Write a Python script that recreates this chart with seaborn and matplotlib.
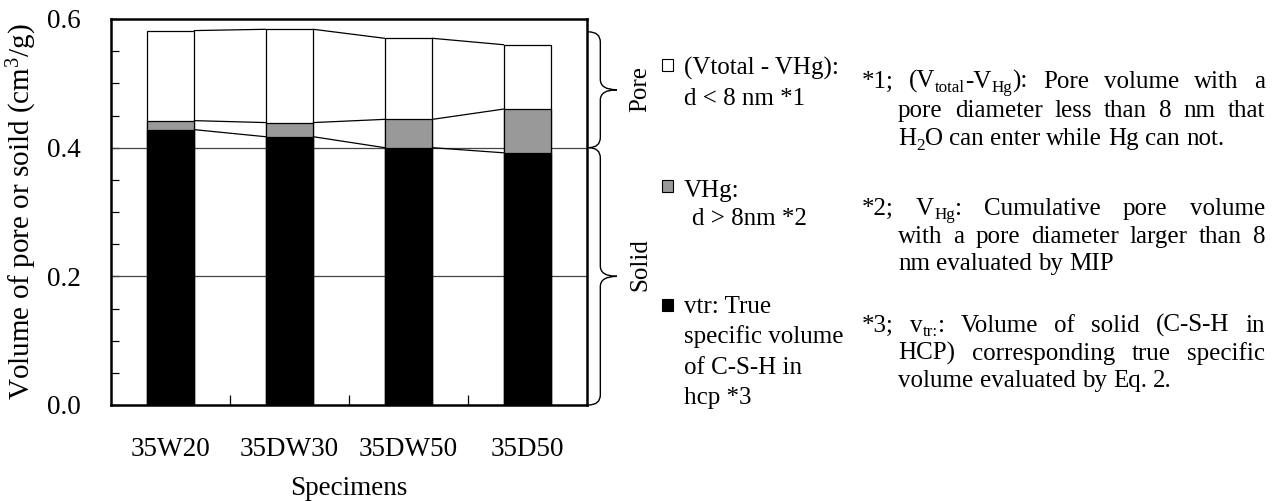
import numpy as np
import pandas as pd
import matplotlib
matplotlib.use("Agg")
import matplotlib.pyplot as plt
import seaborn as sns
from matplotlib.path import Path
from matplotlib.patches import PathPatch, Rectangle
import matplotlib.transforms as mtransforms

# ---------------- data ----------------
specimens = ["35W20", "35DW30", "35DW50", "35D50"]
v_tr = [0.428, 0.417, 0.400, 0.392]        # true specific volume of C-S-H (solid)
v_hg = [0.014, 0.022, 0.044, 0.068]        # VHg : d > 8 nm
v_small = [0.140, 0.145, 0.126, 0.100]     # Vtotal - VHg : d < 8 nm
y_ticks = [0.0, 0.2, 0.4, 0.6]
y_tick_labels = ["0.0", "0.2", "0.4", "0.6"]
y_minor_ticks = [0.05, 0.1, 0.15, 0.25, 0.3, 0.35, 0.45, 0.5, 0.55]
brace_ranges = [(0.40, 0.58), (0.0, 0.40)]   # Pore, Solid
brace_labels = ["Pore", "Solid"]

legend_entries = [
    ("white", ["(Vtotal - VHg):", "d < 8 nm *1"]),
    ("#999999", ["VHg:", "d > 8nm *2"]),
    ("black", ["vtr: True", "specific volume", "of C-S-H in", "hcp *3"]),
]
# words separated by spaces; inside a word, "|" splits pieces, "_" marks a subscript piece
notes = [
    ["*1; (V|_total|-V|_Hg|): Pore volume with a",
     "pore diameter less than 8 nm that",
     "H|_2|O can enter while Hg can not."],
    ["*2; V|_Hg|: Cumulative pore volume",
     "with a pore diameter larger than 8",
     "nm evaluated by MIP"],
    ["*3; v|_tr:|: Volume of solid (C-S-H in",
     "HCP) corresponding true specific",
     "volume evaluated by Eq. 2."],
]

# ---------------- style ----------------
sns.set_theme(style="white")
plt.rcParams["font.family"] = ["Liberation Serif", "DejaVu Serif"]
plt.rcParams["mathtext.fontset"] = "custom"
plt.rcParams["mathtext.rm"] = "Liberation Serif"
plt.rcParams["mathtext.it"] = "Liberation Serif:italic"
plt.rcParams["mathtext.bf"] = "Liberation Serif:bold"

W, H = 1279, 501
FS_TICK = 19.5
FS_YLAB = 21
FS_TXT = 18

fig = plt.figure(figsize=(W / 100, H / 100), dpi=100)
fig.patch.set_facecolor("white")
ax = fig.add_axes([111 / W, 1 - 405 / H, 476 / W, 386 / H])
ax.set_facecolor("white")

df = pd.DataFrame({"specimen": specimens, "solid": v_tr, "hg": v_hg, "small": v_small})
df["top_solid"] = df["solid"]
df["top_hg"] = df["solid"] + df["hg"]
df["top_total"] = df["top_hg"] + df["small"]

bw = 0.4
layers = [("top_total", "white"), ("top_hg", "#999999"), ("top_solid", "black")]
for col, color in layers:
    sns.barplot(data=df, x="specimen", y=col, color=color, saturation=1,
                width=bw, edgecolor="black", linewidth=0.9, errorbar=None,
                ax=ax, zorder=2)

# connecting lines between stacked segment tops
for col, _ in layers:
    vals = df[col].to_numpy()
    for i in range(len(vals) - 1):
        ax.plot([i + bw / 2, i + 1 - bw / 2], [vals[i], vals[i + 1]],
                color="black", lw=0.9, zorder=3)

ax.set_xlim(-0.5, 3.5)
ax.set_ylim(0, 0.6)
ax.set_yticks(y_ticks)
ax.set_yticklabels(y_tick_labels)
ax.set_yticks(y_minor_ticks, minor=True)
ax.set_xticks(range(len(specimens)))
ax.set_xticklabels(specimens)
ax.set_xticks([0.5, 1.5, 2.5], minor=True)

ax.grid(False)
for yv in [0.2, 0.4]:
    ax.axhline(yv, color="#444444", lw=0.9, zorder=1)

ax.tick_params(axis="x", which="major", length=0, pad=23, labelsize=FS_TICK, colors="black")
ax.tick_params(axis="x", which="minor", direction="in", length=7.5, width=0.9, color="black")
ax.tick_params(axis="y", which="both", direction="in", length=6, width=0.9, color="black")
ax.tick_params(axis="y", which="major", pad=22, labelsize=FS_TICK, labelcolor="black")
ax.tick_params(left=True, bottom=True, which="both")

for sp in ax.spines.values():
    sp.set_color("black")
    sp.set_linewidth(1.8)
    sp.set_zorder(5)

ax.set_ylabel("Volume of pore or soild (cm$^3$/g)", fontsize=FS_YLAB, color="black")
ax.yaxis.set_label_coords(-0.152, 0.5)
ax.set_xlabel("Specimens", fontsize=FS_TICK, color="black")
ax.xaxis.set_label_coords(0.5, -0.185)

# ---------------- braces ----------------
btr = mtransforms.blended_transform_factory(ax.transAxes, ax.transData)
x0, x1, x2 = 1.003, 1.028, 1.063
r = 0.016
for (y0, y1) in brace_ranges:
    ym = (y0 + y1) / 2
    verts = [(x0, y0), (x1, y0), (x1, y0 + r), (x1, ym - r),
             (x1, ym), (x2, ym), (x1, ym), (x1, ym + r),
             (x1, y1 - r), (x1, y1), (x0, y1)]
    codes = [Path.MOVETO, Path.CURVE3, Path.CURVE3, Path.LINETO,
             Path.CURVE3, Path.CURVE3, Path.CURVE3, Path.CURVE3,
             Path.LINETO, Path.CURVE3, Path.CURVE3]
    ax.add_patch(PathPatch(Path(verts, codes), transform=btr, fill=False,
                           edgecolor="black", lw=1.0, clip_on=False))

def px(x, y):
    return x / W, 1 - y / H

for label, yc in zip(brace_labels, [89, 265]):
    fig.text(*px(646, yc), label, rotation=90, rotation_mode="anchor",
             ha="center", va="baseline", fontsize=FS_TXT, color="black")

# ---------------- legend ----------------
leg_sq_top = [59, 180, 299]
leg_base = [[75, 105], [197, 225], [313, 343, 374, 404]]
leg_x = [[684, 684], [684, 692], [684, 684, 684, 684]]
for (color, lines), ytop, bases, xs in zip(legend_entries, leg_sq_top, leg_base, leg_x):
    fx, fy = px(662, ytop + 12)
    fig.add_artist(Rectangle((fx, fy), 11 / W, 12 / H, transform=fig.transFigure,
                             facecolor=color, edgecolor="black", lw=0.8))
    for line, yb, xx in zip(lines, bases, xs):
        fig.text(*px(xx, yb), line, fontsize=FS_TXT, va="baseline", ha="left", color="black")

# ---------------- notes (justified) ----------------
renderer = fig.canvas.get_renderer()
note_bases = [[88, 117, 145], [215, 243, 270], [332, 360, 387]]
XL1, XL2, XR = 862, 898, 1265
SUB_DROP = 4.5

def make_word(word, yb):
    pieces = []
    for seg in word.split("|"):
        if seg == "":
            continue
        if seg.startswith("_"):
            o = fig.text(*px(0, yb + SUB_DROP), seg[1:], fontsize=FS_TXT * 0.68,
                         va="baseline", ha="left", color="black")
        else:
            o = fig.text(*px(0, yb), seg, fontsize=FS_TXT,
                         va="baseline", ha="left", color="black")
        pieces.append((o, o.get_window_extent(renderer).width))
    return pieces

def put_line(text, xl, xr, yb, justify):
    words = [make_word(w, yb) for w in text.split(" ")]
    widths = [sum(w for _, w in pcs) for pcs in words]
    space = 0.25 * FS_TXT * 100 / 72
    if justify and len(words) > 1:
        gap = (xr - xl - sum(widths)) / (len(words) - 1)
    else:
        gap = space
    x = xl
    for pcs, ww in zip(words, widths):
        xx = x
        for o, w in pcs:
            o.set_x(xx / W)
            xx += w
        x += ww + gap

for para, bases in zip(notes, note_bases):
    for k, (line, yb) in enumerate(zip(para, bases)):
        xl = XL1 if k == 0 else XL2
        put_line(line, xl, XR, yb, justify=(k < len(para) - 1))

fig.savefig("out.png", dpi=100, facecolor="white")
